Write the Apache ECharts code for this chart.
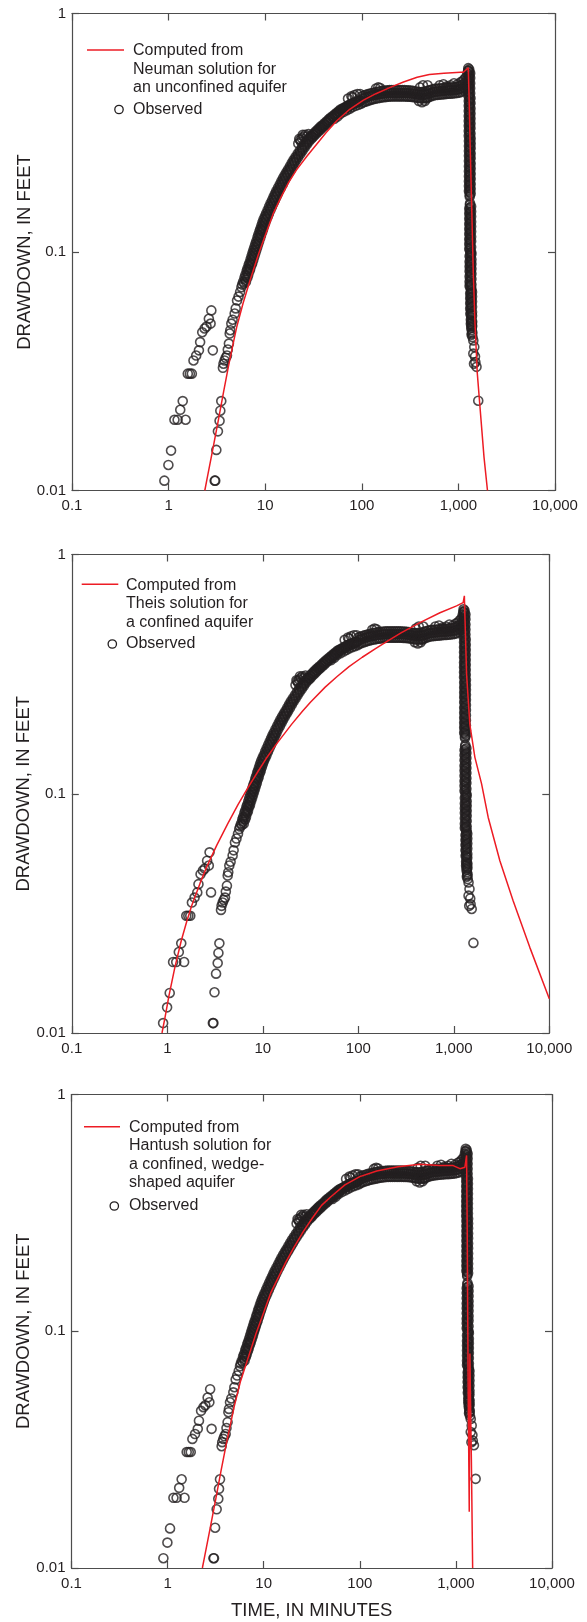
<!DOCTYPE html>
<html>
<head>
<meta charset="utf-8">
<title>Drawdown vs time</title>
<script src="https://cdn.jsdelivr.net/npm/echarts@6.0.0/dist/echarts.min.js"></script>
<style>
  html, body { margin: 0; padding: 0; background: #fff; }
  #chart { width: 587px; height: 1622px; }
</style>
</head>
<body>
<div id="chart"></div>
<script>
// tick labels
const timeTickLabels = ['0.1', '1', '10', '100', '1,000', '10,000'];
const drawdownTickLabels = ['0.01', '0.1', '1'];

// observed drawdown, [time (min), drawdown (ft)] - same well in all three panels
const obsEarlyBranch = [[0.904,0.0110],[0.995,0.0128],[1.06,0.0147],[1.15,0.0198],[1.24,0.0198],[1.50,0.0198],[1.32,0.0218],[1.40,0.0237],[1.58,0.0309],[1.66,0.0309],[1.74,0.0309],[1.81,0.0351],[1.93,0.0368],[2.06,0.0387],[2.12,0.0419],[2.23,0.0461],[2.36,0.0478],[2.47,0.0487],[2.61,0.0525],[2.72,0.0501],[2.77,0.0569],[2.87,0.0387]];
const obsSecondBranch = [[3.00,0.0110],[3.04,0.0110],[3.12,0.0148],[3.24,0.0177],[3.37,0.0196],[3.43,0.0216],[3.51,0.0237],[3.65,0.0327],[3.70,0.0340],[3.80,0.0351],[3.90,0.0360],[4.02,0.0368],[4.10,0.0390],[4.21,0.0413],[4.29,0.0455],[4.35,0.0470],[4.46,0.0501],[4.60,0.0520],[4.83,0.0552],[4.95,0.0580],[5.11,0.0626],[5.30,0.0650],[5.50,0.0680],[5.67,0.0712]];
const obsRiseUpper = [[5.78,.073],[5.91,.075],[6.10,.078],[6.23,.080],[6.42,.083],[6.54,.085],[6.73,.088],[6.87,.090],[7.05,.093],[7.22,.096],[7.39,.099],[7.56,.102],[7.74,.105],[7.91,.108],[8.09,.111],[8.32,.115],[8.49,.118],[8.72,.122],[8.90,.125],[9.13,.129],[9.36,.133],[9.61,.137],[9.92,.141],[10.22,.145],[10.60,.150],[10.98,.155],[11.37,.160],[11.78,.165],[12.19,.170],[12.60,.175],[13.02,.180],[13.57,.186],[14.14,.192],[14.70,.198],[15.26,.204],[15.89,.210],[16.57,.216],[17.25,.222],[18.04,.229],[18.82,.236],[19.63,.243],[20.58,.250],[21.65,.258],[22.73,.266],[23.92,.274],[25.15,.282],[26.38,.290],[27.93,.298],[29,.3026],[30,.3069],[31.5,.3134],[33,.3192],[34.5,.3248],[36,.3303],[37.5,.3356],[39,.3402],[41,.3464],[43,.3527],[45,.3589],[47,.3644],[49.5,.3705],[52,.3766],[54.5,.3826],[57,.3887],[60,.3955],[63,.3996],[66,.4037],[69.5,.4084],[73,.4132],[77,.4186],[81,.4222],[85,.4251],[90,.4287],[95,.4324]];
const obsRiseMiddle = [[6.05,.074],[6.22,.0765],[6.38,.079],[6.55,.0815],[6.71,.084],[6.87,.0865],[7.04,.089],[7.20,.0915],[7.38,.0945],[7.56,.0975],[7.74,.1005],[7.92,.1035],[8.10,.1065],[8.28,.1095],[8.49,.113],[8.70,.1165],[8.91,.120],[9.12,.1235],[9.33,.127],[9.57,.131],[9.82,.135],[10.11,.139],[10.42,.143],[10.77,.1475],[11.17,.1525],[11.57,.1575],[11.98,.1625],[12.40,.1675],[12.83,.1725],[13.26,.1775],[13.76,.183],[14.34,.189],[14.92,.195],[15.50,.201],[16.12,.207],[16.80,.213],[17.50,.219],[18.26,.2255],[19.08,.2325],[19.90,.2395],[20.81,.2465],[21.85,.254],[22.97,.262],[24.14,.270],[25.39,.278],[26.67,.286],[28.10,.294],[30.5,.3048],[31.8,.3102],[33.4,.3163],[34.9,.322],[36.5,.3276],[38.0,.333],[39.6,.3379],[41.4,.3433],[43.5,.3496],[45.5,.3558],[47.6,.3617],[49.9,.3675],[52.5,.3736],[55.1,.3796],[57.7,.3857],[60.5,.3921],[63.7,.3976],[66.8,.4017],[70.1,.4061],[73.7,.4108],[77.6,.4159],[81.8,.4204],[85.9,.4237],[90.6,.4269],[95.7,.4306]];
const obsRiseLower = [[6.32,.075],[6.53,.078],[6.67,.080],[6.87,.083],[7.00,.085],[7.20,.088],[7.35,.090],[7.54,.093],[7.73,.096],[7.91,.099],[8.09,.102],[8.28,.105],[8.46,.108],[8.66,.111],[8.90,.115],[9.08,.118],[9.33,.122],[9.52,.125],[9.77,.129],[10.02,.133],[10.28,.137],[10.61,.141],[10.94,.145],[11.34,.150],[11.75,.155],[12.17,.160],[12.60,.165],[13.04,.170],[13.48,.175],[13.93,.180],[14.52,.186],[15.13,.192],[15.73,.198],[16.33,.204],[17.00,.210],[17.73,.216],[18.46,.222],[19.30,.229],[20.14,.236],[21.00,.243],[22.02,.250],[23.17,.258],[24.32,.266],[25.59,.274],[26.91,.282],[28.23,.290],[29.89,.298],[31.0,.3026],[32.1,.3069],[33.7,.3134],[35.3,.3192],[36.9,.3248],[38.5,.3303],[40.1,.3356],[41.7,.3402],[43.9,.3464],[46.0,.3527],[48.2,.3589],[50.3,.3644],[53.0,.3705],[55.6,.3766],[58.3,.3826],[61.0,.3887],[64.2,.3955],[67.4,.3996],[70.6,.4037],[74.4,.4084],[78.1,.4132],[82.4,.4186],[86.7,.4222],[91.0,.4251],[96.3,.4287]];
const obsRiseLowerEdge = [[52,.362],[56,.370],[60,.380],[65,.387],[70,.393],[75,.399],[80,.405],[86,.410],[92,.414],[98,.418]];
const obsPlateauUpper = [[100,.450],[105,.453],[110,.456],[116,.459],[122,.462],[128,.464],[135,.466],[142,.469],[150,.471],[158,.473],[166,.474],[175,.475],[184,.476],[194,.477],[204,.477],[215,.477],[226,.477],[238,.477],[250,.477],[263,.477],[277,.477],[291,.476],[306,.476],[322,.475],[339,.474],[357,.472],[376,.470],[396,.469],[417,.469],[439,.470],[462,.472],[486,.475],[511,.478],[538,.481],[566,.483],[596,.484],[627,.485],[660,.486],[695,.487],[731,.488],[770,.489],[810,.489],[853,.490],[898,.491],[945,.492],[995,.494],[1047,.497],[1102,.503],[1160,.511],[1220,.526]];
const obsPlateauMiddle = [[102.5,.440],[107.5,.443],[113,.446],[119,.449],[125,.452],[131.5,.454],[138.5,.456],[146,.458],[154,.460],[162,.461],[170.5,.462],[179.5,.463],[189,.464],[199,.464],[209.5,.464],[220.5,.464],[232,.464],[244,.464],[256.5,.464],[270,.464],[284,.464],[298.5,.463],[314,.463],[330.5,.462],[348,.461],[366.5,.459],[386,.457],[406.5,.456],[428,.456],[450.5,.457],[474,.459],[498.5,.462],[524.5,.465],[552,.468],[581,.470],[611.5,.471],[643.5,.472],[677.5,.473],[713,.474],[750.5,.475],[790,.476],[831.5,.476],[875.5,.477],[921.5,.478],[970,.479],[1021,.481],[1074.5,.484],[1131,.490],[1190,.498],[1240,.515]];
const obsPlateauLower = [[102,.423],[107,.426],[113,.429],[119,.432],[125,.435],[131,.437],[138,.439],[146,.441],[154,.443],[162,.445],[170,.446],[179,.447],[189,.448],[199,.449],[209,.449],[220,.449],[232,.449],[244,.449],[256,.449],[270,.449],[284,.449],[298,.448],[314,.448],[330,.447],[348,.446],[366,.444],[386,.442],[406,.441],[428,.441],[450,.442],[474,.444],[498,.447],[524,.450],[552,.453],[581,.455],[611,.456],[643,.457],[677,.458],[713,.459],[750,.460],[790,.461],[831,.461],[875,.462],[921,.463],[970,.464],[1021,.466],[1074,.469],[1131,.475],[1190,.483],[1250,.500]];
const obsLumps = [[22,.285],[22.5,.298],[23,.295],[23.5,.290],[24,.300],[24.5,.310],[25,.305],[26,.310],[27,.305],[28,.312],[72,.440],[78,.450],[80,.445],[84,.455],[90,.460],[96,.460],[140,.485],[148,.490],[155,.487],[390,.430],[420,.425],[450,.430],[470,.440],[400,.490],[430,.500],[480,.500],[640,.500],[700,.505],[760,.495],[830,.500],[900,.510],[980,.505],[1050,.515],[1100,.520],[1150,.530],[1200,.540],[1240,.560],[1260,.575]];
const obsColumn = [[1265,.590],[1270,.576],[1325,.562],[1270,.549],[1325,.536],[1270,.523],[1325,.510],[1270,.498],[1325,.486],[1270,.474],[1325,.463],[1270,.452],[1335,.441],[1280,.430],[1335,.420],[1280,.410],[1335,.400],[1280,.390],[1335,.381],[1280,.372],[1335,.363],[1280,.354],[1335,.346],[1280,.338],[1335,.330],[1280,.322],[1335,.314],[1280,.307],[1340,.299],[1285,.292],[1340,.285],[1285,.278],[1340,.272],[1285,.265],[1340,.259],[1285,.253],[1340,.247],[1285,.241],[1340,.235],[1285,.229],[1340,.224],[1285,.218],[1340,.213],[1285,.208],[1340,.203],[1285,.198],[1340,.193],[1285,.189],[1340,.184],[1285,.180],[1340,.176],[1310,.171],[1320,.160],[1355,.155],[1295,.152],[1355,.148],[1295,.145],[1355,.141],[1295,.138],[1355,.134],[1295,.131],[1355,.128],[1295,.125],[1355,.122],[1295,.119],[1355,.116],[1295,.113],[1355,.111],[1295,.108],[1355,.105],[1295,.103],[1355,.100],[1365,.098],[1305,.096],[1365,.093],[1305,.091],[1365,.089],[1305,.087],[1365,.085],[1305,.083],[1365,.081],[1305,.079],[1365,.077],[1305,.075],[1365,.073],[1305,.072],[1365,.070],[1385,.068],[1325,.067],[1385,.065],[1325,.064],[1385,.062],[1325,.061],[1385,.059],[1325,.058],[1385,.056],[1330,.055],[1385,.054],[1345,.052],[1390,.051],[1345,.050],[1390,.049],[1360,.048],[1395,.046],[1370,.045]];
const obsColumnInner = [[1295,.583],[1295,.569],[1295,.5555],[1295,.5425],[1295,.5295],[1295,.5165],[1295,.504],[1295,.492],[1295,.480],[1295,.4685],[1295,.4575],[1305,.4465],[1305,.4355],[1305,.425],[1305,.415],[1305,.405],[1305,.395],[1305,.3855],[1305,.3765],[1305,.3675],[1305,.3585],[1305,.350],[1305,.342],[1305,.334],[1305,.326],[1305,.318],[1305,.3105],[1310,.303],[1310,.2955],[1310,.2885],[1310,.2815],[1310,.275],[1310,.2685],[1310,.262],[1310,.256],[1310,.250],[1310,.244],[1310,.238],[1310,.232],[1310,.2265],[1310,.221],[1310,.2155],[1310,.2105],[1310,.2055],[1310,.2005],[1310,.1955],[1310,.191],[1310,.1865],[1310,.182],[1310,.178],[1310,.1735],[1315,.1575],[1322,.1535],[1322,.150],[1322,.1465],[1322,.143],[1322,.1395],[1322,.136],[1322,.1325],[1322,.1295],[1322,.1265],[1322,.1235],[1322,.1205],[1322,.1175],[1322,.1145],[1322,.112],[1322,.1095],[1322,.1065],[1322,.104],[1322,.1015],[1332,.099],[1332,.097],[1332,.0945],[1332,.092],[1332,.090],[1332,.088],[1332,.086],[1332,.084],[1332,.082],[1332,.080],[1332,.078],[1332,.076],[1332,.074],[1332,.0725],[1332,.071],[1350,.069],[1350,.0675],[1350,.066],[1350,.0645],[1350,.063],[1350,.0615],[1350,.060],[1350,.0585],[1350,.057],[1350,.0555],[1360,.0545],[1360,.053],[1365,.0515],[1365,.0505],[1370,.0495],[1370,.0485],[1375,.047],[1380,.0455]];
const obsRecoveryTail = [[1400,.044],[1427,.0426],[1460,.040],[1427,.0375],[1486,.0365],[1500,.0345],[1450,.034],[1540,.033],[1605,.0238]];

// computed drawdown curves, [time (min), drawdown (ft)]
const neumanCurve = [[2.37,.0100],[2.48,.0110],[2.85,.0147],[3.27,.0197],[3.7,.0258],[4.15,.0329],[4.6,.0403],[5.07,.0484],[5.9,.061],[6.96,.076],[8.5,.0976],[10,.1174],[12.1,.1448],[14.5,.169],[17.5,.1957],[21.1,.221],[27,.252],[34.1,.283],[43,.3175],[55.1,.355],[75,.3966],[104,.433],[140,.461],[197,.490],[270,.516],[374,.540],[500,.555],[708,.562],[1054,.567],[1125,.567],[1266,.592],[1297,.405],[1319,.294],[1373,.154],[1427,.081],[1486,.050],[1570,.0309],[1673,.0224],[1841,.0138],[2000,.0100]];
const theisCurve = [[0.88,.0100],[0.95,.0117],[1.04,.0143],[1.2,.0188],[1.4,.0243],[1.6,.0293],[1.8,.0340],[2.2,.0422],[2.6,.0497],[3.3,.0610],[4.3,.0750],[5.5,.0900],[7,.1060],[8.8,.1230],[10.8,.1400],[14,.1620],[20,.1950],[26,.2210],[31.7,.2420],[45,.2790],[60,.3090],[80,.3400],[110,.3720],[150,.4030],[200,.4330],[280,.4700],[442,.5190],[716,.5710],[1069,.6100],[1253,.6290],[1290,.6720],[1300,.6000],[1361,.3160],[1472,.1950],[1663,.1420],[1954,.1100],[2293,.0796],[3036,.0525],[4180,.0357],[6250,.0228],[10000,.0139]];
const hantushCurve = [[2.30,.0100],[2.41,.0110],[2.77,.0147],[3.18,.0197],[3.6,.0258],[4.05,.0329],[4.5,.0403],[4.95,.0484],[5.75,.0617],[6.8,.0760],[8.3,.0976],[9.8,.1174],[11.8,.1448],[14.2,.1690],[17,.1960],[20.5,.2250],[26,.2650],[32,.3000],[40,.3400],[50,.3700],[70,.4150],[100,.4500],[150,.4750],[250,.4950],[422,.5070],[681,.5010],[937,.5010],[1102,.4860],[1241,.4930],[1292,.5530],[1300,.4000],[1310,.2850],[1324,.1350],[1345,.0500],[1377,.0173],[1398,.0805],[1420,.0500],[1450,.0280],[1494,.0100]];

const legendTexts = [
  ['Computed from', 'Neuman solution for', 'an unconfined aquifer'],
  ['Computed from', 'Theis solution for', 'a confined aquifer'],
  ['Computed from', 'Hantush solution for', 'a confined, wedge-', 'shaped aquifer']
];

const observed = [].concat(obsEarlyBranch, obsSecondBranch, obsRiseUpper, obsRiseMiddle, obsRiseLower,
  obsRiseLowerEdge, obsPlateauUpper, obsPlateauMiddle, obsPlateauLower, obsLumps,
  obsColumn, obsColumnInner, obsRecoveryTail);
const curves = [neumanCurve, theisCurve, hantushCurve];

const ink = '#231f20';
const frame = '#4d4d4d';
const red = '#ed1c24';
const font = '"Liberation Sans", Arial, sans-serif';

const grids = [
  { left: 72, top: 13.5, width: 483, height: 477 },
  { left: 71.8, top: 554.5, width: 477.5, height: 478.5 },
  { left: 71.5, top: 1094.5, width: 480.5, height: 473.5 }
];
// legend placement per panel (line x0/x1/y, text x, line centres, observed row y, circle x)
const legendPos = [
  { x0: 87, x1: 124, y: 50, tx: 133, rows: [50.5, 69.5, 88], obsY: 109.5, cx: 119 },
  { x0: 81.7, x1: 118.3, y: 584.3, tx: 126, rows: [585.5, 604, 622.5], obsY: 644, cx: 112.3 },
  { x0: 84, x1: 120, y: 1126.7, tx: 129, rows: [1127.3, 1146, 1164.3, 1182.7], obsY: 1206, cx: 114.3 }
];

const axisLine = { show: true, lineStyle: { color: frame, width: 1.2 } };
const tick = { show: true, inside: true, length: 7, lineStyle: { color: frame, width: 1.2 } };

const xAxes = [], yAxes = [], series = [], graphic = [];

grids.forEach(function (g, i) {
  xAxes.push({
    type: 'log', logBase: 10, gridIndex: i, min: 0.1, max: 10000, position: 'bottom',
    axisLine: axisLine, axisTick: tick, splitLine: { show: false }, minorTick: { show: false },
    axisLabel: {
      show: true, margin: 8, fontSize: 15, color: ink, fontFamily: font,
      showMinLabel: true, showMaxLabel: true,
      formatter: function (v) { return timeTickLabels[Math.round(Math.log10(v)) + 1]; }
    },
    name: i === 2 ? 'TIME, IN MINUTES' : '',
    nameLocation: 'middle', nameGap: 33,
    nameTextStyle: { fontSize: 18.5, color: ink, fontFamily: font }
  });
  xAxes.push({
    type: 'log', logBase: 10, gridIndex: i, min: 0.1, max: 10000, position: 'top',
    axisLine: axisLine, axisTick: tick, splitLine: { show: false }, axisLabel: { show: false }
  });
  yAxes.push({
    type: 'log', logBase: 10, gridIndex: i, min: 0.01, max: 1, position: 'left',
    axisLine: axisLine, axisTick: tick, splitLine: { show: false },
    axisLabel: {
      show: true, margin: 6, fontSize: 15, color: ink, fontFamily: font,
      showMinLabel: true, showMaxLabel: true,
      formatter: function (v) { return drawdownTickLabels[Math.round(Math.log10(v)) + 2]; }
    },
    name: 'DRAWDOWN, IN FEET', nameLocation: 'middle', nameGap: 38, nameMoveOverlap: false,
    nameTextStyle: { fontSize: 18.5, color: ink, fontFamily: font }
  });
  yAxes.push({
    type: 'log', logBase: 10, gridIndex: i, min: 0.01, max: 1, position: 'right',
    axisLine: axisLine, axisTick: tick, splitLine: { show: false }, axisLabel: { show: false }
  });

  series.push({
    name: 'Observed', type: 'scatter', xAxisIndex: 2 * i, yAxisIndex: 2 * i,
    data: observed, symbol: 'circle', symbolSize: 9, silent: true, z: 2,
    itemStyle: { color: 'rgba(0,0,0,0)', borderColor: ink, borderWidth: 1.6 }
  });
  series.push({
    name: 'Computed', type: 'line', xAxisIndex: 2 * i, yAxisIndex: 2 * i,
    data: curves[i], showSymbol: false, symbol: 'none', silent: true, z: 3,
    lineStyle: { color: red, width: 1.5 }
  });

  // legend drawn as graphics
  const p = legendPos[i];
  graphic.push({
    type: 'line', shape: { x1: p.x0, y1: p.y, x2: p.x1, y2: p.y },
    style: { stroke: red, lineWidth: 1.6 }, z: 10
  });
  legendTexts[i].forEach(function (t, k) {
    graphic.push({
      type: 'text', x: p.tx, y: p.rows[k], z: 10,
      style: { text: t, fill: ink, font: '16px ' + font, textVerticalAlign: 'middle', verticalAlign: 'middle' }
    });
  });
  graphic.push({
    type: 'circle', shape: { cx: p.cx, cy: p.obsY, r: 4.2 },
    style: { fill: 'none', stroke: ink, lineWidth: 1.3 }, z: 10
  });
  graphic.push({
    type: 'text', x: p.tx, y: p.obsY, z: 10,
    style: { text: 'Observed', fill: ink, font: '16px ' + font, textVerticalAlign: 'middle', verticalAlign: 'middle' }
  });
});

const chart = echarts.init(document.getElementById('chart'), null, { renderer: 'canvas' });
chart.setOption({
  animation: false,
  backgroundColor: '#fff',
  textStyle: { fontFamily: font },
  grid: grids,
  xAxis: xAxes,
  yAxis: yAxes,
  series: series,
  graphic: graphic
});
</script>
</body>
</html>
